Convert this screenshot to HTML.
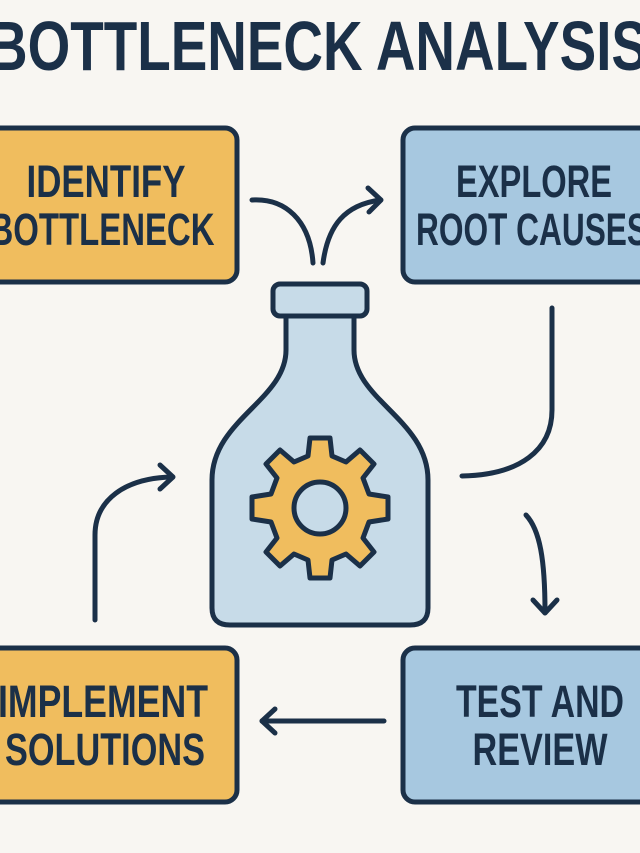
<!DOCTYPE html>
<html><head><style>
html,body{margin:0;padding:0;background:#f8f6f2;}
svg{display:block;}
text{font-family:"Liberation Sans",sans-serif;font-weight:bold;fill:#1b3048;}
</style></head><body>
<svg width="640" height="853" viewBox="0 0 640 853">
<rect width="640" height="853" fill="#f8f6f2"/>
<text x="318" y="70" font-size="70" text-anchor="middle" textLength="660" lengthAdjust="spacingAndGlyphs">BOTTLENECK ANALYSIS</text>
<g stroke="#1b3048" stroke-width="5">
<rect x="-20" y="128" width="257" height="154" rx="12" fill="#f0bd5e"/>
<rect x="403" y="128" width="257" height="154" rx="12" fill="#a7c8e0"/>
<rect x="-20" y="648" width="257" height="154" rx="12" fill="#f0bd5e"/>
<rect x="403" y="648" width="257" height="154" rx="12" fill="#a7c8e0"/>
</g>
<g font-size="45" text-anchor="middle">
<text x="106" y="197" textLength="159" lengthAdjust="spacingAndGlyphs">IDENTIFY</text>
<text x="102" y="245" textLength="225" lengthAdjust="spacingAndGlyphs">BOTTLENECK</text>
<text x="534" y="197" textLength="156" lengthAdjust="spacingAndGlyphs">EXPLORE</text>
<text x="532" y="245" textLength="232" lengthAdjust="spacingAndGlyphs">ROOT CAUSES</text>
<text x="540" y="717" textLength="168" lengthAdjust="spacingAndGlyphs">TEST AND</text>
<text x="540" y="765" textLength="135" lengthAdjust="spacingAndGlyphs">REVIEW</text>
<text x="103" y="717" textLength="210" lengthAdjust="spacingAndGlyphs">IMPLEMENT</text>
<text x="105" y="765" textLength="200" lengthAdjust="spacingAndGlyphs">SOLUTIONS</text>
</g>
<g fill="none" stroke="#1b3048" stroke-width="5" stroke-linecap="round" stroke-linejoin="round">
<path d="M252 200 C285 198 310 220 313 263"/>
<path d="M323 263 C328 225 345 205 380 200"/>
<path d="M368 188 L381 200 L369 212"/>
<path d="M552 308 L552 410 C552 450 520 475 462 476"/>
<path d="M526 515 C540 530 545 560 545 612"/>
<path d="M533 600 L545 613 L557 600"/>
<path d="M384 721 L262 721"/>
<path d="M275 709 L262 721 L275 733"/>
<path d="M95 620 L95 535 C95 500 125 478 172 477"/>
<path d="M160 465 L173 477 L160 489"/>
</g>
<g stroke="#1b3048" stroke-width="5" fill="#c7dbe8" stroke-linejoin="round">
<path d="M286 315 L286 350 C286 400 212 420 212 480 L212 608 Q212 625 230 625 L410 625 Q428 625 428 608 L428 480 C428 420 354 400 354 350 L354 315 Z"/>
<rect x="273" y="284" width="94" height="32" rx="7"/>
</g>
<g transform="translate(320,508)" stroke="#1b3048" stroke-width="5" stroke-linejoin="round">
<path fill="#f0bd5e" d="M-10 -70 L10 -70 L12 -52 L26 -46 L40 -58 L54 -44 L43 -30 L49 -14 L68 -11 L68 11 L49 14 L43 30 L54 44 L40 58 L26 46 L12 52 L10 70 L-10 70 L-12 52 L-26 46 L-40 58 L-54 44 L-43 30 L-49 14 L-68 11 L-68 -11 L-49 -14 L-43 -30 L-54 -44 L-40 -58 L-26 -46 L-12 -52 Z"/>
<circle r="26" fill="#c7dbe8"/>
</g>
</svg>
</body></html>
